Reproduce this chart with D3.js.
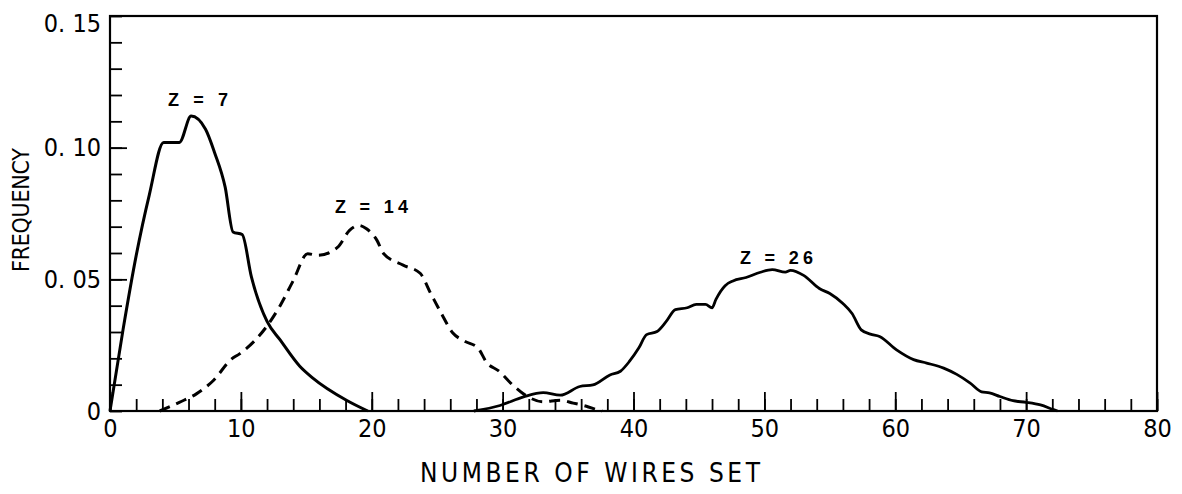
<!DOCTYPE html>
<html>
<head>
<meta charset="utf-8">
<script src="https://cdn.jsdelivr.net/npm/d3@7/dist/d3.min.js"></script>
<style>
  body { margin: 0; background: #fff; }
  svg { display: block; }
  .tick text, .ttl { font-family: "DejaVu Sans Condensed", "Liberation Sans Narrow", sans-serif; font-stretch: condensed; fill: #000; }
</style>
</head>
<body>
<script>
// wires set vs frequency, three curves (Z = 7, 14, 26)
var z7X = [0, 1.0, 2.0, 3.0, 4.1, 5.3, 6.2, 7.3, 8.0, 8.8, 9.4, 10.1, 10.8, 12.0, 13.0, 14.5, 15.5, 18.1, 19.7];
var z7Y = [0, 0.031, 0.059, 0.082, 0.102, 0.102, 0.112, 0.107, 0.098, 0.085, 0.068, 0.067, 0.051, 0.034, 0.027, 0.017, 0.0125, 0.004, 0];

var z14X = [3.8, 5.3, 6.6, 7.9, 9.3, 9.9, 12.0, 13.0, 14.0, 15.1, 15.9, 17.4, 18.3, 19.0, 19.6, 20.4, 20.9, 22.4, 23.7, 24.5, 25.3, 26.2, 27.1, 28.1, 28.8, 29.7, 30.7, 31.8, 33.1, 34.4, 35.4, 36.4, 37.2, 37.6];
var z14Y = [0, 0.0033, 0.0065, 0.0116, 0.0198, 0.0217, 0.0323, 0.040, 0.0495, 0.0597, 0.0591, 0.0622, 0.0686, 0.0705, 0.0692, 0.0648, 0.0598, 0.0554, 0.0523, 0.0447, 0.0372, 0.0296, 0.0265, 0.024, 0.0183, 0.0152, 0.0102, 0.0058, 0.0035, 0.0041, 0.003, 0.0018, 0.0005, 0];

var z26X = [27.8, 29.8, 31.6, 33.1, 34.4, 35.9, 36.9, 38.2, 39.0, 39.7, 40.4, 41.0, 41.8, 42.5, 43.2, 44.1, 44.8, 45.5, 46.0, 46.3, 47.0, 47.6, 48.6, 49.7, 50.6, 51.6, 52.0, 53.0, 54.2, 55.0, 56.0, 56.7, 57.4, 58.1, 58.8, 60.1, 61.4, 62.4, 63.7, 64.7, 65.7, 66.6, 67.2, 68.0, 69.0, 70.0, 71.1, 72.1, 72.4];
var z26Y = [0, 0.0021, 0.0054, 0.0070, 0.0060, 0.0093, 0.0099, 0.0137, 0.0151, 0.0189, 0.0239, 0.0290, 0.0302, 0.0340, 0.0385, 0.0392, 0.0405, 0.0405, 0.0392, 0.0424, 0.0476, 0.0494, 0.0507, 0.0527, 0.0537, 0.0527, 0.0534, 0.0515, 0.0465, 0.0446, 0.0408, 0.0370, 0.0308, 0.0292, 0.0283, 0.0232, 0.0195, 0.0182, 0.0163, 0.0139, 0.0107, 0.0073, 0.0069, 0.0055, 0.0039, 0.0033, 0.0023, 0.0005, 0];

var xLabelTicks = [0, 10, 20, 30, 40, 50, 60, 70, 80];
var yLabelTicks = [0, 0.05, 0.10, 0.15];
var yLabelText = ['0', '0. 05', '0. 10', '0. 15'];

var W = 1182, H = 494;
var plotL = 110, plotR = 1157, plotT = 16, plotB = 411;

var svg = d3.select('body').append('svg')
  .attr('width', W)
  .attr('height', H);

var x = d3.scaleLinear().domain([0, 80]).range([plotL, plotR]);
var y = d3.scaleLinear().domain([0, 0.15]).range([plotB, plotT]);

function cleanAxis(g) {
  g.select('.domain').remove();
  g.selectAll('.tick line').attr('stroke', '#000').attr('stroke-width', 1.8);
}

// minor / major ticks pointing into the plot
svg.append('g')
  .attr('transform', 'translate(' + plotL + ',0)')
  .call(d3.axisRight(y).tickValues(d3.range(0, 0.1501, 0.01)).tickSize(12).tickFormat(''))
  .call(cleanAxis);
svg.append('g')
  .attr('transform', 'translate(' + plotL + ',0)')
  .call(d3.axisRight(y).tickValues([0.05, 0.10]).tickSize(17).tickFormat(''))
  .call(cleanAxis);
svg.append('g')
  .attr('transform', 'translate(0,' + plotB + ')')
  .call(d3.axisTop(x).tickValues(d3.range(0, 81, 2)).tickSize(12).tickFormat(''))
  .call(cleanAxis);
svg.append('g')
  .attr('transform', 'translate(0,' + plotB + ')')
  .call(d3.axisTop(x).tickValues(d3.range(0, 81, 10)).tickSize(19).tickFormat(''))
  .call(cleanAxis);

// tick labels
svg.append('g')
  .attr('transform', 'translate(' + plotL + ',0)')
  .call(d3.axisLeft(y).tickValues(yLabelTicks).tickSize(0).tickPadding(9)
    .tickFormat(function(d, i) { return yLabelText[i]; }))
  .call(function(g) {
    g.select('.domain').remove();
    g.selectAll('text').style('font-size', '25px')
      .attr('dy', function(d) { return d === 0.15 ? '0.6em' : '0.32em'; });
  });
svg.append('g')
  .attr('transform', 'translate(0,' + plotB + ')')
  .call(d3.axisBottom(x).tickValues(xLabelTicks).tickSize(0).tickPadding(8))
  .call(function(g) {
    g.select('.domain').remove();
    g.selectAll('text').style('font-size', '25px');
  });

// frame
svg.append('rect')
  .attr('x', plotL)
  .attr('y', plotT)
  .attr('width', plotR - plotL)
  .attr('height', plotB - plotT)
  .attr('fill', 'none')
  .attr('stroke', '#000')
  .attr('stroke-width', 2.2);

var line = d3.line()
  .x(function(d) { return x(d[0]); })
  .y(function(d) { return y(d[1]); })
  .curve(d3.curveMonotoneX);

function pairs(xs, ys) { return xs.map(function(v, i) { return [v, ys[i]]; }); }

svg.append('path')
  .datum(pairs(z7X, z7Y))
  .attr('d', line)
  .attr('fill', 'none')
  .attr('stroke', '#000')
  .attr('stroke-width', 3);

svg.append('path')
  .datum(pairs(z14X, z14Y))
  .attr('d', line)
  .attr('fill', 'none')
  .attr('stroke', '#000')
  .attr('stroke-width', 3)
  .attr('stroke-dasharray', '11,7');

svg.append('path')
  .datum(pairs(z26X, z26Y))
  .attr('d', line)
  .attr('fill', 'none')
  .attr('stroke', '#000')
  .attr('stroke-width', 2.8);

// curve labels
var curveLabels = [
  { text: 'Z = 7', x: 168, y: 106, len: 60 },
  { text: 'Z = 14', x: 335, y: 213, len: 73 },
  { text: 'Z = 26', x: 740, y: 264, len: 73 }
];
svg.selectAll('.zlab')
  .data(curveLabels)
  .enter().append('text')
  .attr('class', 'zlab')
  .attr('x', function(d) { return d.x; })
  .attr('y', function(d) { return d.y; })
  .attr('textLength', function(d) { return d.len; })
  .attr('lengthAdjust', 'spacing')
  .style('font-family', '"Liberation Sans", sans-serif')
  .style('font-weight', 'bold')
  .style('font-size', '18px')
  .text(function(d) { return d.text; });

// axis titles
svg.append('text')
  .attr('class', 'ttl')
  .attr('x', 420)
  .attr('y', 482)
  .attr('textLength', 340)
  .attr('lengthAdjust', 'spacing')
  .style('font-size', '26px')
  .text('NUMBER OF WIRES SET');

svg.append('text')
  .attr('class', 'ttl')
  .attr('transform', 'translate(29,272) rotate(-90)')
  .attr('textLength', 124)
  .attr('lengthAdjust', 'spacing')
  .style('font-size', '23px')
  .text('FREQUENCY');
</script>
</body>
</html>
